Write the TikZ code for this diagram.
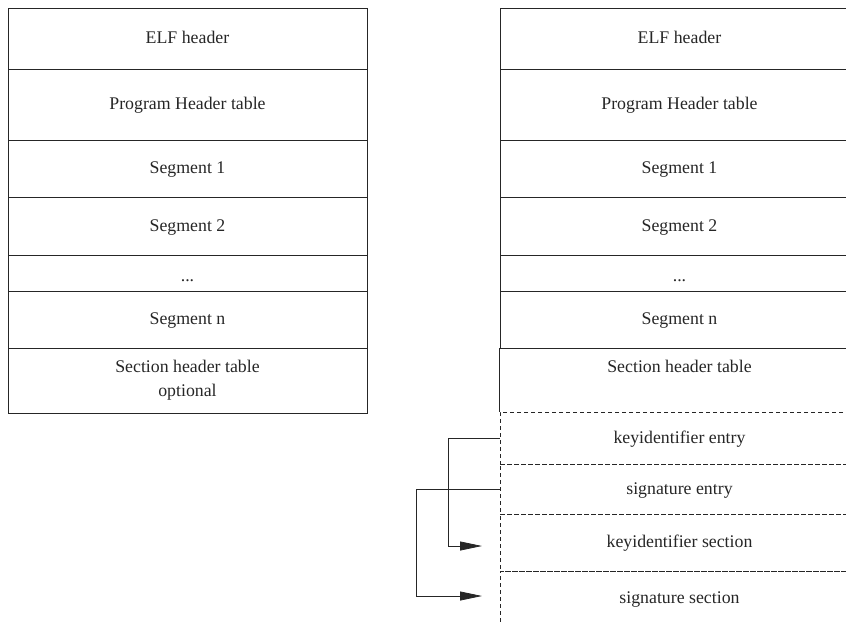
\documentclass[tikz,border=0pt]{standalone}
\usepackage{fontspec}
\setmainfont{Liberation Serif}
\usetikzlibrary{arrows.meta}
\begin{document}
\begin{tikzpicture}[x=1pt,y=-1pt,
  base/.style={rectangle, minimum width=359pt, minimum height=#1, inner sep=0pt,
    align=center, font=\fontsize{17.8}{24}\selectfont, text=black!85},
  cell/.style={base=#1, text height=13pt, text depth=3pt},
  solidcell/.style={cell=#1, draw=black!85, line width=0.8pt},
  dashcell/.style={cell=#1, draw=black!85, line width=0.8pt, dash pattern=on 4pt off 3pt},
  twocell/.style={base=#1},
  link/.style={draw=black!85, line width=0.8pt, -{Triangle[length=22pt,width=9pt]}}
]
\useasboundingbox (0,0) rectangle (846,622);
% left column
\node[solidcell=61pt] (l1) at (187.5,38.5) {ELF header};
\node[solidcell=71pt] (l2) at (187.5,104.5) {Program Header table};
\node[solidcell=57pt] (l3) at (187.5,168.5) {Segment 1};
\node[solidcell=58pt] (l4) at (187.5,226) {Segment 2};
\node[solidcell=36pt] (l5) at (187.5,273) {\raisebox{-3pt}{...}};
\node[solidcell=57pt] (l6) at (187.5,319.5) {Segment n};
\node[twocell=65pt, draw=black!85, line width=0.8pt] (l7) at (187.5,380.5) {Section header table\\optional};
% right column
\node[solidcell=61pt] (r1) at (679.5,38.5) {ELF header};
\node[solidcell=71pt] (r2) at (679.5,104.5) {Program Header table};
\node[solidcell=57pt] (r3) at (679.5,168.5) {Segment 1};
\node[solidcell=58pt] (r4) at (679.5,226) {Segment 2};
\node[solidcell=36pt] (r5) at (679.5,273) {\raisebox{-3pt}{...}};
\node[solidcell=57pt] (r6) at (679.5,319.5) {Segment n};
\node[twocell=64pt] (r7) at (679.5,380) {Section header table\\\phantom{optional}};
\node[dashcell=52pt] (d1) at (679.5,438) {keyidentifier entry};
\node[dashcell=50pt] (d2) at (679.5,489) {signature entry};
\node[dashcell=57pt] (d3) at (679.5,542.5) {keyidentifier section};
\node[dashcell=54pt] (d4) at (679.5,598) {signature section};
\draw[black!85, line width=0.8pt] (r6.south west) -- (r6.south west |- d1.north);
% connectors
\coordinate (kt) at (482,546);
\coordinate (st) at (482,596);
\draw[link] (d1.west) -- ++(-51,0) |- (kt);
\draw[link] (d2.west) -- ++(-83,0) |- (st);
\end{tikzpicture}
\end{document}
